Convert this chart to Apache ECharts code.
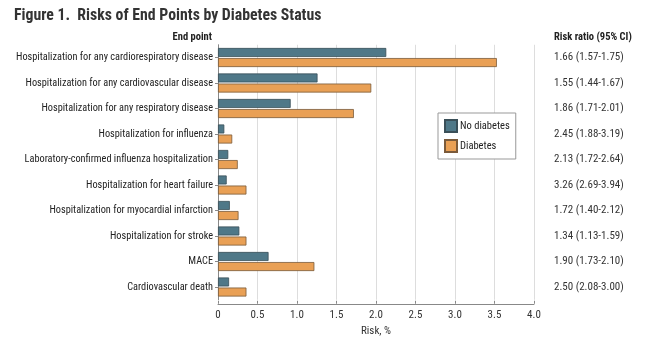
<!DOCTYPE html>
<html>
<head>
<meta charset="utf-8">
<script src="https://cdn.jsdelivr.net/npm/echarts@6/dist/echarts.min.js"></script>
<style>
html,body{margin:0;padding:0;background:#fff;}
#c{width:647px;height:341px;}
</style>
</head>
<body>
<div id="c"></div>
<script>
const categories = [
  "Hospitalization for any cardiorespiratory disease",
  "Hospitalization for any cardiovascular disease",
  "Hospitalization for any respiratory disease",
  "Hospitalization for influenza",
  "Laboratory-confirmed influenza hospitalization",
  "Hospitalization for heart failure",
  "Hospitalization for myocardial infarction",
  "Hospitalization for stroke",
  "MACE",
  "Cardiovascular death"
];
const noDiabetes = [2.13, 1.26, 0.92, 0.08, 0.13, 0.11, 0.15, 0.27, 0.64, 0.14];
const diabetes   = [3.53, 1.94, 1.72, 0.18, 0.25, 0.36, 0.26, 0.36, 1.22, 0.36];
const riskRatios = [
  "1.66 (1.57-1.75)", "1.55 (1.44-1.67)", "1.86 (1.71-2.01)", "2.45 (1.88-3.19)",
  "2.13 (1.72-2.64)", "3.26 (2.69-3.94)", "1.72 (1.40-2.12)", "1.34 (1.13-1.59)",
  "1.90 (1.73-2.10)", "2.50 (2.08-3.00)"
];
const seriesNames = ["No diabetes", "Diabetes"];
const xMin = 0, xMax = 4, xStep = 0.5;

const FONT = "'Roboto Condensed', 'DejaVu Sans Condensed', sans-serif";
const chart = echarts.init(document.getElementById('c'), null, {renderer: 'canvas'});
chart.setOption({
  animation: false,
  backgroundColor: '#fff',
  textStyle: {fontFamily: FONT},
  title: {
    text: 'Figure 1.  Risks of End Points by Diabetes Status',
    left: 9, top: 3,
    textStyle: {fontFamily: FONT, fontSize: 15.8, fontWeight: 'bold', color: '#333'}
  },
  graphic: [
    {type: 'text', right: 435, top: 32, style: {text: 'End point', font: "bold 10.5px " + FONT, fill: '#222'}},
    {type: 'text', left: 554, top: 32, style: {text: 'Risk ratio (95% CI)', font: "bold 10.5px " + FONT, fill: '#222'}}
  ],
  legend: {
    data: seriesNames,
    orient: 'vertical',
    left: 438, top: 113,
    padding: [6, 6, 6, 6],
    itemWidth: 12, itemHeight: 12, itemGap: 6,
    borderColor: '#999', borderWidth: 1, backgroundColor: '#fff',
    icon: 'rect',
    textStyle: {fontFamily: FONT, fontSize: 10.5, color: '#222', padding: [0, 0, 0, -2]}
  },
  grid: {left: 218, right: 113, top: 44.75, height: 255, containLabel: false, outerBoundsMode: 'none'},
  xAxis: {
    type: 'value', min: xMin, max: xMax, interval: xStep,
    offset: 4,
    name: 'Risk, %', nameLocation: 'middle', nameGap: 21,
    nameTextStyle: {fontFamily: FONT, fontSize: 11, color: '#333'},
    axisLine: {show: true, lineStyle: {color: '#888'}},
    axisTick: {show: true, length: 3, inside: true, lineStyle: {color: '#888'}},
    axisLabel: {fontFamily: FONT, fontSize: 11, color: '#333', margin: 6,
      formatter: v => v === 0 ? '0' : v.toFixed(1)},
    splitLine: {show: true, lineStyle: {color: '#ddd'}}
  },
  yAxis: [
    {
      type: 'category', data: categories, inverse: true,
      axisLine: {show: true, lineStyle: {color: '#888'}},
      axisTick: {show: true, length: 3, alignWithLabel: true, lineStyle: {color: '#888'}},
      axisLabel: {fontFamily: FONT, fontSize: 10.3, color: '#222', margin: 5}
    },
    {
      type: 'category', data: riskRatios, inverse: true, position: 'right',
      axisLine: {show: false}, axisTick: {show: false},
      axisLabel: {fontFamily: FONT, fontSize: 11, color: '#333', margin: 20, align: 'left'}
    }
  ],
  series: [
    {
      name: seriesNames[0], type: 'bar', data: noDiabetes, yAxisIndex: 0,
      barWidth: 9, barGap: '12%',
      itemStyle: {color: '#4f7888', borderColor: '#3a4f58', borderWidth: 0.8}
    },
    {
      name: seriesNames[1], type: 'bar', data: diabetes, yAxisIndex: 0,
      barWidth: 9, barGap: '12%',
      itemStyle: {color: '#e9a055', borderColor: '#7a5a3a', borderWidth: 0.8}
    }
  ]
});
</script>
</body>
</html>
